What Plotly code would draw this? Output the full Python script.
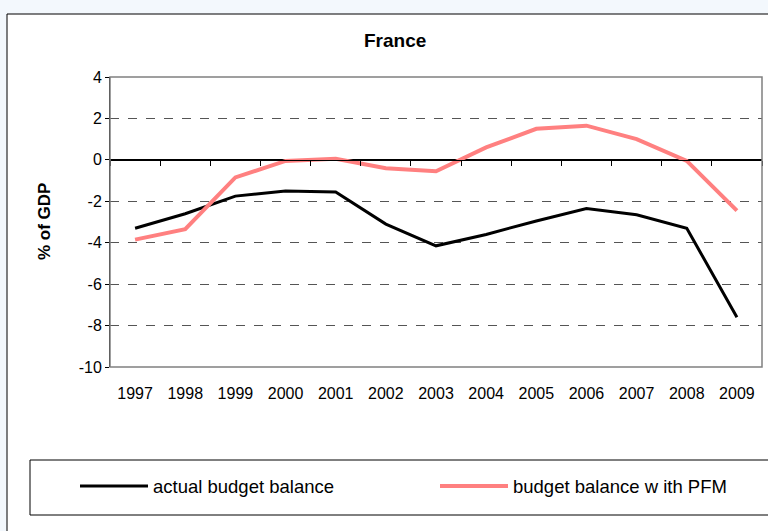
import plotly.graph_objects as go

years = ["1997", "1998", "1999", "2000", "2001", "2002", "2003",
         "2004", "2005", "2006", "2007", "2008", "2009"]
actual = [-3.3, -2.6, -1.75, -1.5, -1.55, -3.1, -4.15,
          -3.6, -2.95, -2.35, -2.65, -3.3, -7.6]
pfm = [-3.85, -3.35, -0.85, -0.05, 0.05, -0.4, -0.55,
       0.6, 1.5, 1.65, 1.0, -0.05, -2.45]
series_names = ["actual budget balance", "budget balance w ith PFM"]
series_colors = ["#000000", "#FF8080"]
series_widths = [3, 4]
y_ticks = [4, 2, 0, -2, -4, -6, -8, -10]
y_tick_labels = ["4", "2", "0", "-2", "-4", "-6", "-8", "-10"]

W, H = 768, 531
L, R, T, B = 110, 762, 77, 367  # plot area in px


def px(x):
    return (x - L) / (R - L)


def py(y):
    return (B - y) / (B - T)


FONT = "Liberation Sans, Arial, sans-serif"
BG = "#F3F8FD"

fig = go.Figure()
for vals, name, col, w in zip([actual, pfm], series_names, series_colors, series_widths):
    fig.add_trace(go.Scatter(x=years, y=vals, mode="lines", name=name,
                             line=dict(color=col, width=w), showlegend=False))
# helper trace for the zero-line axis with boundary ticks
fig.add_trace(go.Scatter(x=years, y=[None] * len(years), xaxis="x2",
                         mode="lines", showlegend=False, hoverinfo="skip"))

shapes = []
# outer chart area (white) with top and left border
shapes.append(dict(type="rect", xref="paper", yref="paper",
                   x0=px(7), x1=px(W), y0=py(H), y1=py(14),
                   line=dict(width=0), fillcolor="white", layer="below"))
shapes.append(dict(type="line", xref="paper", yref="paper",
                   x0=px(7), x1=px(W), y0=py(14), y1=py(14),
                   line=dict(color="#000000", width=1)))
shapes.append(dict(type="line", xref="paper", yref="paper",
                   x0=px(7), x1=px(7), y0=py(14), y1=py(H),
                   line=dict(color="#000000", width=1)))
# plot area border (gray)
shapes.append(dict(type="rect", xref="paper", yref="paper",
                   x0=0, x1=1, y0=0, y1=1,
                   line=dict(color="#808080", width=1.5), layer="above"))
# legend box
shapes.append(dict(type="rect", xref="paper", yref="paper",
                   x0=px(30), x1=px(790), y0=py(515), y1=py(460),
                   line=dict(color="#000000", width=1), layer="above"))
annotations = []
leg_pos = [(80, 148), (440, 508)]
for (xa, xb), name, col, w in zip(leg_pos, series_names, series_colors, series_widths):
    shapes.append(dict(type="line", xref="paper", yref="paper",
                       x0=px(xa), x1=px(xb), y0=py(486), y1=py(486),
                       line=dict(color=col, width=w)))
    annotations.append(dict(x=px(xb + 3), y=py(486), xref="paper", yref="paper",
                            text=name, showarrow=False, xanchor="left",
                            yanchor="middle",
                            font=dict(family=FONT, size=18.5, color="#000000")))

annotations.append(dict(x=px(395), y=py(40), xref="paper", yref="paper",
                        text="<b>France</b>", showarrow=False,
                        xanchor="center", yanchor="middle",
                        font=dict(family=FONT, size=19, color="#000000")))
annotations.append(dict(x=px(44), y=py(222), xref="paper", yref="paper",
                        text="<b>% of GDP</b>", showarrow=False, textangle=-90,
                        xanchor="center", yanchor="middle",
                        font=dict(family=FONT, size=17, color="#000000")))

fig.update_layout(
    width=W, height=H,
    margin=dict(l=L, r=W - R, t=T, b=H - B, pad=0),
    paper_bgcolor=BG,
    plot_bgcolor="white",
    showlegend=False,
    shapes=shapes,
    annotations=annotations,
    font=dict(family=FONT, size=16, color="#000000"),
    xaxis=dict(type="category", categoryorder="array", categoryarray=years,
               range=[-0.5, 12.5], showgrid=False, zeroline=False,
               showline=False, ticks="", ticklabelstandoff=15,
               tickfont=dict(family=FONT, size=16)),
    xaxis2=dict(type="category", categoryorder="array", categoryarray=years,
                range=[-0.5, 12.5], overlaying="x", anchor="free",
                position=10 / 14, side="bottom", showgrid=False,
                zeroline=False, showline=True, linecolor="#000000",
                linewidth=1, ticks="outside", tickson="boundaries",
                ticklen=5, tickcolor="#000000", showticklabels=False),
    yaxis=dict(range=[-10, 4], tickvals=y_ticks, ticktext=y_tick_labels,
               showgrid=True,
               gridcolor="#555555", griddash="dash", gridwidth=1,
               zeroline=True, zerolinecolor="#000000", zerolinewidth=1,
               showline=True, linecolor="#000000",
               linewidth=1, ticks="outside", ticklen=4, tickcolor="#000000",
               tickfont=dict(family=FONT, size=16)),
)

fig.write_html(
    "out.html",
    config={"displayModeBar": False},
    post_script=("document.body.style.margin='0';"
                 "document.body.style.background='" + BG + "';"),
)
